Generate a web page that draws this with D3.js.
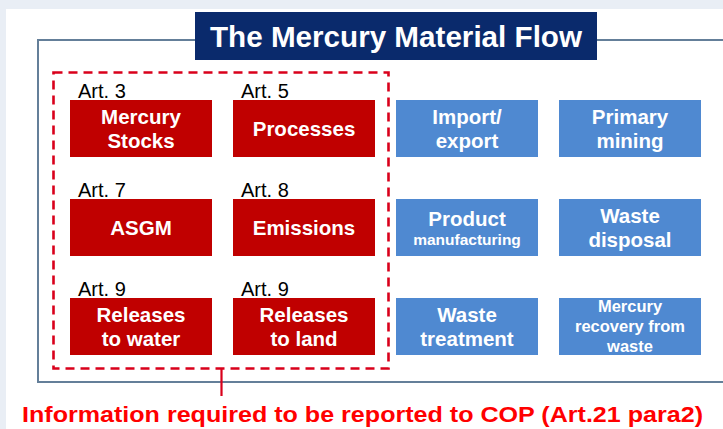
<!DOCTYPE html>
<html>
<head>
<meta charset="utf-8">
<script src="https://cdn.jsdelivr.net/npm/d3@7"></script>
<style>
  html, body { margin: 0; padding: 0; background: #e9eef5; }
  svg { display: block; }
  text { font-family: "Liberation Sans", Arial, sans-serif; }
</style>
</head>
<body>
<svg id="chart" width="723" height="429"></svg>
<script>
// ---- data ----
const title = "The Mercury Material Flow";
const footnote = "Information required to be reported to COP (Art.21 para2)";
const reportedArticles = ["Art. 3", "Art. 5", "Art. 7", "Art. 8", "Art. 9", "Art. 9"];
const reportedLabels = [
  ["Mercury", "Stocks"], ["Processes"],
  ["ASGM"], ["Emissions"],
  ["Releases", "to water"], ["Releases", "to land"]
];
const otherLabels = [
  ["Import/", "export"], ["Primary", "mining"],
  ["Product", "manufacturing"], ["Waste", "disposal"],
  ["Waste", "treatment"], ["Mercury", "recovery from", "waste"]
];
const columns = [0, 1, 2, 3];
const rows = [0, 1, 2];

// ---- layout ----
const svg = d3.select("#chart");
const W = 723, H = 429;

svg.append("rect").attr("x", 6).attr("y", 9).attr("width", W - 6).attr("height", H - 9).attr("fill", "#ffffff");

const x = d3.scalePoint().domain(columns).range([70, 559]);
const y = d3.scalePoint().domain(rows).range([100, 298]);
const boxW = 142, boxH = 57;

// frame
const frameColor = "#647f99";
svg.append("path")
  .attr("d", `M195,40 H38 V382 H${W + 2} M597,40 H${W + 2}`)
  .attr("fill", "none").attr("stroke", frameColor).attr("stroke-width", 2);

// title box
svg.append("rect").attr("x", 195).attr("y", 12).attr("width", 402).attr("height", 48).attr("fill", "#0a2a6c");
svg.append("text").attr("x", 210).attr("y", 46.5)
  .attr("textLength", 372).attr("lengthAdjust", "spacingAndGlyphs")
  .attr("fill", "#ffffff").attr("font-weight", "bold").attr("font-size", 29).text(title);

// boxes data
const red = reportedLabels.map((lines, i) => ({ lines, art: reportedArticles[i], col: i % 2, row: Math.floor(i / 2), fill: "#c00000" }));
const blue = otherLabels.map((lines, i) => ({ lines, col: 2 + i % 2, row: Math.floor(i / 2), fill: "#4f89d1" }));
const boxes = red.concat(blue);

const g = svg.append("g");
const bg = g.selectAll("g.box").data(boxes).join("g").attr("class", "box")
  .attr("transform", d => `translate(${x(d.col)},${y(d.row)})`);

bg.append("rect").attr("width", boxW).attr("height", boxH).attr("fill", d => d.fill);

bg.each(function(d) {
  const n = d.lines.length;
  const big = n === 3 ? 16.5 : 20.5;
  const lh = n === 3 ? 20 : 23.5;
  const cy = boxH / 2;
  const t = d3.select(this).append("text").attr("text-anchor", "middle")
    .attr("fill", "#ffffff").attr("font-weight", "bold");
  d.lines.forEach((ln, i) => {
    const small = n === 2 && ln.length > 11;
    const fs = small ? 15.5 : big;
    let by = cy + big * 0.36 + (i - (n - 1) / 2) * lh;
    if (small) by -= 2;
    if (n === 2 && !small && d.lines.some(l => l.length > 11)) by += 3;
    t.append("tspan").attr("x", boxW / 2).attr("y", by).attr("font-size", fs).text(ln);
  });
});

// article labels
bg.filter(d => d.art).append("text")
  .attr("x", 8).attr("y", -2).attr("font-size", 20).attr("fill", "#000000").text(d => d.art);

// dashed reporting boundary
const dashColor = "#d9001b";
svg.append("rect").attr("x", 53.5).attr("y", 72.5).attr("width", 335).attr("height", 296)
  .attr("fill", "none").attr("stroke", dashColor).attr("stroke-width", 2.6)
  .attr("stroke-dasharray", "9,6");
svg.append("line").attr("x1", 221.5).attr("x2", 221.5).attr("y1", 369).attr("y2", 396)
  .attr("stroke", dashColor).attr("stroke-width", 2.2);

// footnote
svg.append("text").attr("x", 22).attr("y", 422)
  .attr("textLength", 681).attr("lengthAdjust", "spacingAndGlyphs")
  .attr("fill", "#ff0000").attr("font-weight", "bold").attr("font-size", 22.5).text(footnote);
</script>
</body>
</html>
